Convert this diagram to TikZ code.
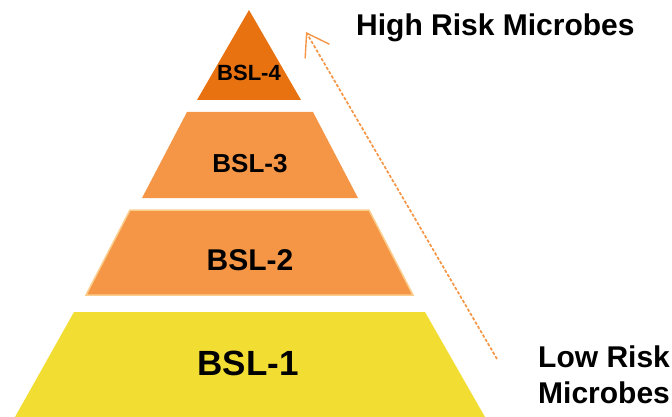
\documentclass[tikz,border=0pt]{standalone}
\usepackage{fontspec}
\setmainfont{Liberation Sans}
\usetikzlibrary{arrows.meta}
\definecolor{bslfour}{RGB}{232,114,16}
\definecolor{bslmid}{RGB}{245,150,70}
\definecolor{bslone}{RGB}{242,221,50}
\definecolor{bsledge}{RGB}{250,205,140}
\tikzset{
  lvl/.style={inner sep=0pt, font=\bfseries},
  note/.style={inner sep=0pt, anchor=base west, font=\fontsize{30}{30}\selectfont\bfseries},
  riskarrow/.style={draw=bslmid, line width=1.7pt, dash pattern=on 3.2pt off 1.8pt,
    -{Straight Barb[length=21pt, width=28pt, line width=1.4pt]}}
}
\begin{document}
\begin{tikzpicture}[x=1pt, y=-1pt]
\useasboundingbox (0,0) rectangle (672,417);
% levels
\fill[bslone] (74,312) -- (425,312) -- (485,417) -- (15,417) -- cycle;
\fill[bslmid, draw=bsledge, line width=1.5pt] (130,210) -- (369,210) -- (413,295) -- (86,295) -- cycle;
\fill[bslmid] (187,112) -- (313,112) -- (358,198) -- (142,198) -- cycle;
\fill[bslfour] (249,10) -- (301,100) -- (197,100) -- cycle;
% labels
\node[lvl, font=\fontsize{22}{22}\selectfont\bfseries] (l4) at (249,73) {BSL-4};
\node[lvl, font=\fontsize{26}{26}\selectfont\bfseries] (l3) at (250,164) {BSL-3};
\node[lvl, font=\fontsize{30}{30}\selectfont\bfseries] (l2) at (250,260) {BSL-2};
\node[lvl, font=\fontsize{35}{35}\selectfont\bfseries] (l1) at (248,363) {BSL-1};
% notes
\node[note] (high) at (356,36) {High Risk Microbes};
\node[note] (low) at (538,367) {Low Risk};
\node[note] (lowb) at (538,403) {Microbes};
% arrow
\coordinate (astart) at (497,359);
\coordinate (aend) at (306,32);
\draw[riskarrow] (astart) -- (aend);
\end{tikzpicture}
\end{document}
